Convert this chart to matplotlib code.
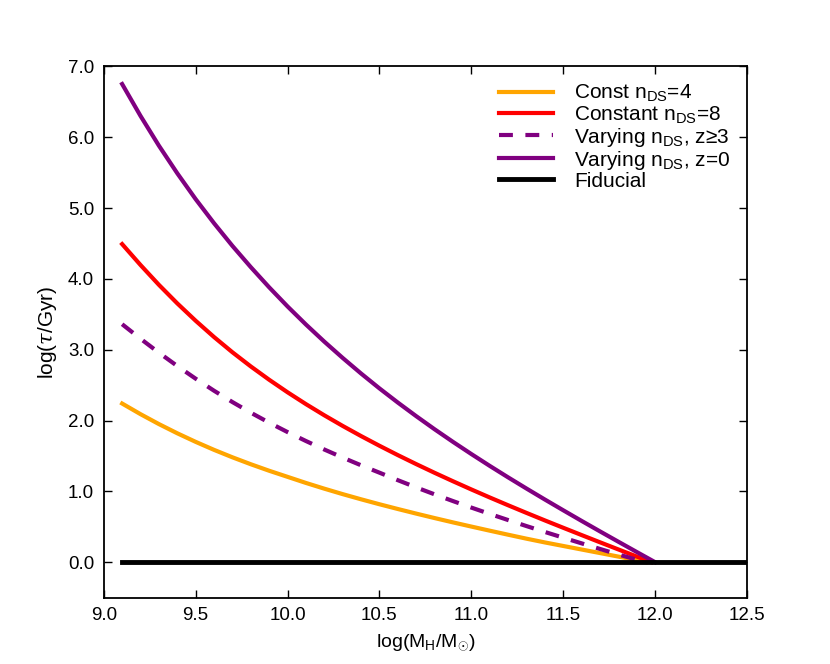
import matplotlib
matplotlib.use('Agg')
import matplotlib.pyplot as plt
from matplotlib.ticker import FormatStrFormatter
import numpy as np

plt.rcParams['font.family'] = ['Liberation Sans', 'DejaVu Sans']
plt.rcParams['mathtext.fontset'] = 'custom'
plt.rcParams['mathtext.rm'] = 'Liberation Sans'
plt.rcParams['mathtext.it'] = 'DejaVu Serif:italic'
plt.rcParams['mathtext.default'] = 'it'
plt.rcParams['lines.scale_dashes'] = False

# values
x_grid = [9.1, 9.2, 9.3, 9.4, 9.5, 9.6, 9.7, 9.8, 9.9, 10.0, 10.1, 10.2, 10.3, 10.4, 10.5,
          10.6, 10.7, 10.8, 10.9, 11.0, 11.1, 11.2, 11.3, 11.4, 11.5, 11.6, 11.7, 11.8, 11.9]

x_const4 = x_grid + [11.95]
y_const4 = [2.24, 2.09, 1.95, 1.82, 1.699, 1.586, 1.481, 1.383, 1.291, 1.205, 1.119, 1.038,
            0.961, 0.888, 0.818, 0.751, 0.686, 0.623, 0.562, 0.503, 0.445, 0.388, 0.332,
            0.279, 0.229, 0.179, 0.129, 0.079, 0.029, 0.0]

x_const8 = x_grid + [11.98]
y_const8 = [4.491, 4.196, 3.916, 3.654, 3.409, 3.179, 2.964, 2.764, 2.576, 2.399, 2.232,
            2.074, 1.924, 1.781, 1.644, 1.512, 1.385, 1.262, 1.143, 1.027, 0.914, 0.804,
            0.696, 0.590, 0.486, 0.383, 0.281, 0.180, 0.080, 0.0]

x_vary3 = x_grid + [11.945]
y_vary3 = [3.36, 3.155, 2.958, 2.770, 2.591, 2.421, 2.261, 2.111, 1.970, 1.837, 1.711,
           1.591, 1.477, 1.368, 1.264, 1.158, 1.056, 0.958, 0.863, 0.771, 0.682, 0.595,
           0.510, 0.427, 0.346, 0.266, 0.187, 0.109, 0.035, 0.0]

x_vary0 = x_grid + [12.0]
y_vary0 = [6.751, 6.301, 5.881, 5.491, 5.126, 4.786, 4.466, 4.166, 3.881, 3.611, 3.356,
           3.114, 2.884, 2.664, 2.454, 2.254, 2.062, 1.877, 1.699, 1.527, 1.360, 1.198,
           1.040, 0.885, 0.733, 0.583, 0.435, 0.289, 0.144, 0.0]

x_fid = [9.1, 12.5]
y_fid = [0.0, 0.0]

fs = 14

fig, ax = plt.subplots(figsize=(8.3, 6.64), dpi=100)
fig.subplots_adjust(left=0.125, right=0.9, bottom=0.1, top=0.9)

ax.plot(x_const4, y_const4, color='orange', lw=3, label=r'Const n$_{\rm DS}$=4')
ax.plot(x_const8, y_const8, color='red', lw=3, label=r'Constant n$_{\rm DS}$=8')
ax.plot(x_vary3, y_vary3, color='purple', lw=3, ls='--', dashes=(10, 9),
        label=r'Varying n$_{\rm DS}$, z≥3')
ax.plot(x_vary0, y_vary0, color='purple', lw=3, label=r'Varying n$_{\rm DS}$, z=0')
ax.plot(x_fid, y_fid, color='black', lw=3.5, label='Fiducial')

ax.set_xlim(9.0, 12.5)
ax.set_ylim(-0.5, 7.0)
ax.set_xticks(np.arange(9.0, 12.51, 0.5))
ax.set_yticks(np.arange(0.0, 7.01, 1.0))
ax.xaxis.set_major_formatter(FormatStrFormatter('%.1f'))
ax.yaxis.set_major_formatter(FormatStrFormatter('%.1f'))
ax.tick_params(direction='in', length=6, width=1, top=True, right=True,
               labelsize=13.5, pad=7)
for sp in ax.spines.values():
    sp.set_linewidth(1.3)

ax.set_xlabel(r'log(M$_{\rm H}$/M$_{\odot}$)', fontsize=fs, labelpad=6)
ax.set_ylabel(r'log($\tau$/Gyr)', fontsize=15, labelpad=6)

ax.legend(loc='upper right', frameon=False, fontsize=15, handlelength=2.6,
          labelspacing=0.0, borderaxespad=0.4, handletextpad=1.0)

fig.savefig('out.png', dpi=100, facecolor='white')
